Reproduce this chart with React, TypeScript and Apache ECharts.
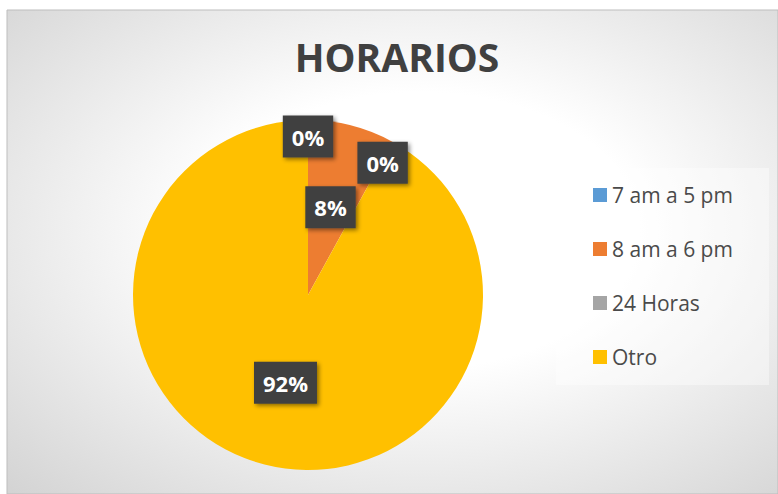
import React, { useEffect, useRef } from "react";
import * as echarts from "echarts";

const categories = ["7 am a 5 pm", "8 am a 6 pm", "24 Horas", "Otro"];
const values = [0, 8, 0, 92];
const colors = ["#5b9bd5", "#ed7d31", "#a5a5a5", "#ffc000"];
const labelOffsets: number[][] = [[0, -68], [0, 0], [31, -53], [0, 0]];
const titleText = "HORARIOS";

export default function App() {
  const ref = useRef<HTMLDivElement>(null);
  useEffect(() => {
    if (!ref.current) return;
    const chart = echarts.init(ref.current, undefined, { renderer: "svg" });
    const labelStyle = {
      show: true,
      position: "inside",
      formatter: (p: any) => Math.round(p.percent) + "%",
      color: "#ffffff",
      fontFamily: "Open Sans",
      fontWeight: "bold",
      fontSize: 22,
      lineHeight: 22,
      backgroundColor: "#404040",
      padding: [10, 9],
      shadowColor: "rgba(0,0,0,0.45)",
      shadowBlur: 4,
      shadowOffsetX: 2,
      shadowOffsetY: 2,
    };
    chart.setOption({
      animation: false,
      title: {
        text: titleText,
        left: 397,
        top: 37,
        textAlign: "center",
        padding: 0,
        textStyle: {
          fontFamily: "Open Sans",
          fontWeight: "bold",
          fontSize: 39,
          lineHeight: 39,
          color: "#404040",
        },
      },
      graphic: [
        {
          type: "rect",
          z: -10,
          shape: { x: 7, y: 10, width: 771, height: 484 },
          style: {
            fill: new echarts.graphic.RadialGradient(0.536, 0.455, 0.95, [
              { offset: 0, color: "#ffffff" },
              { offset: 0.3, color: "#ffffff" },
              { offset: 1, color: "#c2c2c2" },
            ]),
            stroke: "#bdbdbd",
            lineWidth: 1,
          },
        },
        {
          type: "rect",
          z: -9,
          shape: { x: 556, y: 168, width: 213, height: 217 },
          style: { fill: "rgba(255,255,255,0.4)" },
        },
      ],
      legend: {
        orient: "vertical",
        left: 593,
        top: 184.5,
        padding: 0,
        itemWidth: 14,
        itemHeight: 14,
        itemGap: 33,
        icon: "rect",
        data: categories,
        selectedMode: false,
        textStyle: {
          fontFamily: "Open Sans",
          fontSize: 21,
          lineHeight: 21,
          color: "#4a4a4a",
        },
      },
      series: [
        {
          type: "pie",
          center: [308, 295],
          radius: 175,
          startAngle: 90,
          clockwise: true,
          avoidLabelOverlap: false,
          emphasis: { disabled: true },
          itemStyle: { borderWidth: 0 },
          labelLine: { show: false },
          data: categories.map((name, i) => ({
            name,
            value: values[i],
            itemStyle: { color: colors[i] },
            label: { ...labelStyle, offset: labelOffsets[i] },
          })),
        },
      ],
    });
    return () => chart.dispose();
  }, []);
  return (
    <div
      ref={ref}
      style={{ position: "absolute", left: 0, top: 0, width: 778, height: 494 }}
    />
  );
}
